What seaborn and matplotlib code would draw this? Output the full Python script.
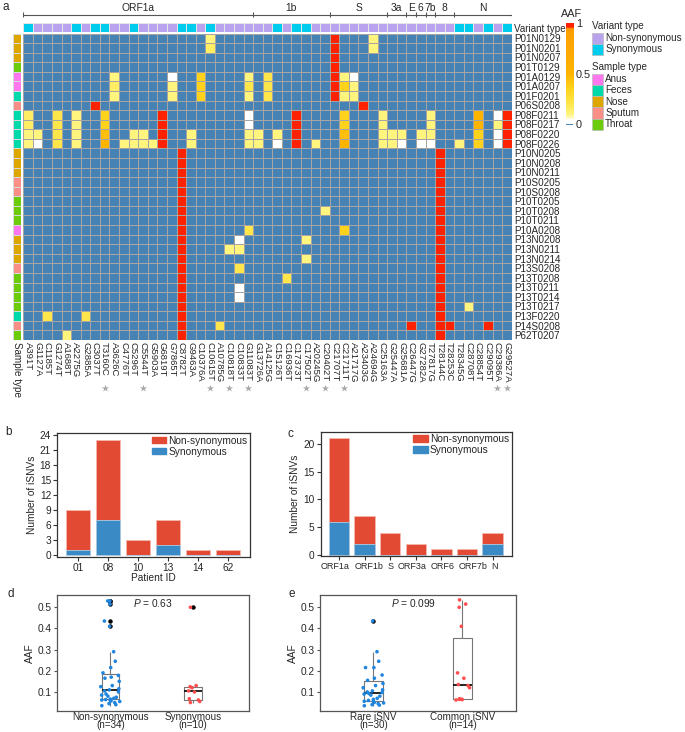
import numpy as np
import pandas as pd
import matplotlib
matplotlib.use("Agg")
import matplotlib.pyplot as plt
import matplotlib.transforms as mtransforms
from matplotlib.colors import LinearSegmentedColormap, ListedColormap
from matplotlib.patches import Rectangle, Patch
import seaborn as sns

# ---------------- panel a data ----------------
mutations = ["A391T", "G1127A", "C1185T", "G1274T", "A1688T", "A2275G", "G2885A", "C3037T",
             "T3160C", "A3626C", "C4776T", "C5296T", "C5544T", "G5903A", "G6819T", "G7865T",
             "C8782T", "G9463A", "C10376A", "C10615T", "A10785G", "C10818T", "C10833T", "G11083T",
             "G13726A", "A14125G", "C15126T", "C16936T", "C17373T", "C17502T", "A20245G", "C20402T",
             "C21707T", "C21711T", "A21717G", "A23403G", "A24694G", "C25163A", "G25447A", "G25681A",
             "C26447G", "G27282A", "T27817G", "T28144C", "T28253C", "T28345G", "C28708T", "C28854T",
             "C29095T", "C29386A", "G29527A"]
# S = synonymous, N = non-synonymous
variant_type = ["S", "N", "N", "N", "N", "S", "N", "S", "S", "N", "N", "S", "N", "N", "N", "N",
                "S", "S", "N", "S", "N", "N", "N", "N", "N", "N", "S", "N", "S", "S", "N", "N",
                "N", "N", "N", "N", "N", "N", "N", "N", "N", "N", "N", "N", "N", "S", "S", "N",
                "S", "N", "S"]
genes = ["ORF1a", "1b", "S", "3a", "E", "6", "7b", "8", "N"]
gene_ncols = [24, 8, 6, 2, 1, 1, 1, 2, 6]
starred = ["T3160C", "C5544T", "C10615T", "C10818T", "G11083T", "C17502T", "C20402T", "C21711T",
           "C29386A", "G29527A"]

samples = ["P01N0129", "P01N0201", "P01N0207", "P01T0129", "P01A0129", "P01A0207", "P01F0201",
           "P06S0208", "P08F0211", "P08F0217", "P08F0220", "P08F0226", "P10N0205", "P10N0208",
           "P10N0211", "P10S0205", "P10S0208", "P10T0205", "P10T0208", "P10T0211", "P10A0208",
           "P13N0208", "P13N0211", "P13N0214", "P13S0208", "P13T0208", "P13T0211", "P13T0214",
           "P13T0217", "P13F0220", "P14S0208", "P62T0207"]
sample_type_names = ["Anus", "Feces", "Nose", "Sputum", "Throat"]
sample_code = {"A": "Anus", "F": "Feces", "N": "Nose", "S": "Sputum", "T": "Throat"}

# AAF estimates
W, L, L2, Y, G, O, R = 0.015, 0.1, 0.15, 0.2, 0.35, 0.5, 1.0
fixed_late = {"C8782T": R, "T28144C": R}
aaf_cells = {
    "P01N0129": {"C10615T": L, "C21707T": R, "A24694G": L},
    "P01N0201": {"C10615T": L2, "C21707T": R, "A24694G": L},
    "P01N0207": {"C21707T": R},
    "P01T0129": {"C21707T": R},
    "P01A0129": {"A3626C": L, "G7865T": W, "C10376A": G, "G11083T": L, "A14125G": Y,
                 "C21707T": R, "C21711T": L, "A21717G": W},
    "P01A0207": {"A3626C": L2, "G7865T": L, "C10376A": G, "G11083T": Y, "A14125G": Y,
                 "C21707T": R, "C21711T": G, "A21717G": L},
    "P01F0201": {"A3626C": L, "G7865T": L, "C10376A": G, "G11083T": L, "A14125G": Y,
                 "C21707T": R, "C21711T": L, "A21717G": L},
    "P06S0208": {"C3037T": R, "A23403G": R},
    "P08F0211": {"A391T": L2, "G1274T": Y, "A2275G": L, "T3160C": G, "G6819T": R, "G11083T": W,
                 "C17373T": R, "C21711T": G, "C25163A": L, "T27817G": L, "C28854T": O,
                 "C29386A": W, "G29527A": R},
    "P08F0217": {"A391T": L2, "G1274T": Y, "A2275G": L, "T3160C": G, "G6819T": R, "G11083T": W,
                 "C17373T": R, "C21711T": G, "C25163A": L, "T27817G": L, "C28854T": O,
                 "C29386A": L, "G29527A": R},
    "P08F0220": {"A391T": L, "G1127A": L, "G1274T": Y, "A2275G": L, "T3160C": 0.45, "C5296T": L,
                 "C5544T": L, "G6819T": R, "G9463A": L, "G11083T": L, "G13726A": L, "C15126T": L,
                 "C17373T": R, "C21711T": 0.45, "C25163A": L, "G25447A": L, "G25681A": L,
                 "G27282A": L, "T27817G": L, "C28854T": G, "C29386A": W, "G29527A": R},
    "P08F0226": {"A391T": L, "G1127A": W, "G1274T": Y, "A2275G": L, "T3160C": O, "C4776T": L,
                 "C5296T": L, "C5544T": L, "G5903A": L, "G6819T": R, "G9463A": L, "G11083T": L,
                 "G13726A": L, "C15126T": W, "C17373T": R, "A20245G": L, "C21711T": O,
                 "C25163A": L, "G25447A": L, "G25681A": W, "G27282A": W, "T27817G": W,
                 "T28345G": L, "C28854T": G, "C29386A": W, "G29527A": R},
    "P10N0205": dict(fixed_late), "P10N0208": dict(fixed_late), "P10N0211": dict(fixed_late),
    "P10S0205": dict(fixed_late), "P10S0208": dict(fixed_late), "P10T0205": dict(fixed_late),
    "P10T0208": {**fixed_late, "C20402T": L},
    "P10T0211": dict(fixed_late),
    "P10A0208": {**fixed_late, "G11083T": Y, "C21711T": G},
    "P13N0208": {**fixed_late, "C10833T": W, "C17502T": L},
    "P13N0211": {**fixed_late, "C10818T": L, "C10833T": L},
    "P13N0214": {**fixed_late, "C17502T": L},
    "P13S0208": {**fixed_late, "C10833T": Y},
    "P13T0208": {**fixed_late, "C16936T": Y},
    "P13T0211": {**fixed_late, "C10833T": W},
    "P13T0214": {**fixed_late, "C10833T": W},
    "P13T0217": {**fixed_late, "C28708T": L},
    "P13F0220": {**fixed_late, "C1185T": Y, "G2885A": Y},
    "P14S0208": {**fixed_late, "A10785G": Y, "C26447G": R, "T28253C": R, "C29095T": R},
    "P62T0207": {**fixed_late, "A1688T": L},
}

# ---------------- panels b-e data ----------------
patients = ["01", "08", "10", "13", "14", "62"]
patient_syn = [1, 7, 0, 2, 0, 0]
patient_nonsyn = [8, 16, 3, 5, 1, 1]

orfs = ["ORF1a", "ORF1b", "S", "ORF3a", "ORF6", "ORF7b", "N"]
orf_syn = [6, 2, 0, 0, 0, 0, 2]
orf_nonsyn = [15, 5, 4, 2, 1, 1, 2]

nonsyn_aaf = [0.035, 0.04, 0.045, 0.05, 0.055, 0.058, 0.06, 0.062, 0.064, 0.066, 0.07, 0.075,
              0.08, 0.085, 0.09, 0.1, 0.105, 0.11, 0.115, 0.125, 0.13, 0.15, 0.165, 0.17, 0.178,
              0.19, 0.215, 0.245, 0.29, 0.41, 0.435, 0.515, 0.53, 0.53]
syn_aaf = [0.05, 0.055, 0.062, 0.068, 0.1, 0.105, 0.12, 0.125, 0.13, 0.5]
rare_aaf = [0.035, 0.038, 0.04, 0.045, 0.048, 0.05, 0.055, 0.056, 0.06, 0.065, 0.07, 0.08, 0.085,
            0.09, 0.093, 0.097, 0.1, 0.105, 0.11, 0.12, 0.13, 0.14, 0.155, 0.165, 0.18, 0.215,
            0.215, 0.245, 0.29, 0.435]
common_aaf = [0.062, 0.064, 0.065, 0.065, 0.068, 0.12, 0.13, 0.135, 0.165, 0.19, 0.41, 0.5,
              0.515, 0.535]
p_de = ["0.63", "0.099"]

# ---------------- style ----------------
nonsyn_color = "#B9A2EE"
syn_color = "#00CCEE"
sample_colors = ["#FF77EE", "#00D9A9", "#DDA700", "#FA8F87", "#6CCB0A"]
bar_red = "#E34A33"
bar_blue = "#3A8BC5"
pt_blue = "#1F85DE"
pt_red = "#FF4C4C"
bg_blue = "#4682B4"
FS = 7.3

sns.set_theme(style="ticks")
plt.rcParams["font.family"] = ["Liberation Sans", "DejaVu Sans"]
plt.rcParams["mathtext.fontset"] = "custom"
plt.rcParams["mathtext.it"] = "Liberation Sans:italic"
plt.rcParams["mathtext.rm"] = "Liberation Sans"

FW, FH = 685, 732
fig = plt.figure(figsize=(FW / 100, FH / 100), dpi=100)


def px_axes(x0, y0, x1, y1, **kw):
    return fig.add_axes([x0 / FW, 1 - y1 / FH, (x1 - x0) / FW, (y1 - y0) / FH], **kw)


aaf_cmap = LinearSegmentedColormap.from_list("aaf", [
    (0.0, bg_blue), (0.005, bg_blue), (0.006, "#FFFFFF"), (0.02, "#FFFFFF"),
    (0.1, "#FFF47C"), (0.2, "#FFE64A"), (0.35, "#FFD21C"), (0.5, "#FFB400"),
    (0.9, "#FFA000"), (0.94, "#FF9400"), (0.95, "#FF2200"), (1.0, "#FF2200")], N=2048)

# ---------------- panel a: heatmap ----------------
mat = pd.DataFrame(0.0, index=samples, columns=mutations)
for s, cells in aaf_cells.items():
    for m, v in cells.items():
        mat.loc[s, m] = v

ax_hm = px_axes(23.3, 33.5, 511.7, 340)
sns.heatmap(mat, cmap=aaf_cmap, vmin=0, vmax=1, cbar=False, linewidths=0.6, linecolor="#A5A5A5",
            xticklabels=True, yticklabels=True, ax=ax_hm)
ax_hm.yaxis.tick_right()
plt.setp(ax_hm.get_yticklabels(), rotation=0, fontsize=7.1)
plt.setp(ax_hm.get_xticklabels(), rotation=270, fontsize=6.8)
ax_hm.tick_params(length=0, pad=1.5)
ax_hm.set_xlabel("")
ax_hm.set_ylabel("")

trans = mtransforms.blended_transform_factory(ax_hm.transData, ax_hm.transAxes)
star_x = [mutations.index(m) + 0.5 for m in starred]
ax_hm.scatter(star_x, [-0.157] * len(star_x), marker="*", s=30, color="#AAAAAA", linewidths=0,
              transform=trans, clip_on=False)

# variant type bar
vt = pd.DataFrame([[0 if v == "N" else 1 for v in variant_type]], index=["Variant type"],
                  columns=mutations)
ax_vt = px_axes(23.3, 23.3, 511.7, 32.3)
sns.heatmap(vt, cmap=ListedColormap([nonsyn_color, syn_color]), vmin=-0.5, vmax=1.5, cbar=False,
            linewidths=0.6, linecolor="#E6E6E6", xticklabels=False, yticklabels=True, ax=ax_vt)
ax_vt.yaxis.tick_right()
plt.setp(ax_vt.get_yticklabels(), rotation=0, fontsize=7.1)
ax_vt.tick_params(length=0, pad=1.5)
ax_vt.set_xlabel("")
ax_vt.set_ylabel("")

# sample type side bar
st = pd.DataFrame({"Sample type": [sample_type_names.index(sample_code[s[3]]) for s in samples]},
                  index=samples)
ax_st = px_axes(13.3, 33.5, 21.3, 340)
sns.heatmap(st, cmap=ListedColormap(sample_colors), vmin=-0.5, vmax=4.5, cbar=False,
            linewidths=0.5, linecolor="#D8D8D8", xticklabels=True, yticklabels=False, ax=ax_st)
plt.setp(ax_st.get_xticklabels(), rotation=270, fontsize=7.1)
ax_st.tick_params(length=0, pad=1.5)
ax_st.set_ylabel("")

# gene bracket
ax_gene = px_axes(23.3, 2, 511.7, 20)
ax_gene.set_xlim(0, len(mutations))
ax_gene.set_ylim(0, 1)
ax_gene.axis("off")
bounds = np.cumsum([0] + gene_ncols)
ax_gene.hlines(0.28, bounds[0], bounds[-1], color="#555555", lw=0.8)
ax_gene.vlines(bounds, 0.15, 0.42, color="#555555", lw=0.8)
for g, a, b in zip(genes, bounds[:-1], bounds[1:]):
    ax_gene.text((a + b) / 2, 0.68, g, ha="center", va="center", fontsize=7.4)

# colour bar
ax_cb = px_axes(566, 23, 573.3, 126)
grad = np.linspace(0.05, 1, 300)[:, None]
ax_cb.imshow(grad, aspect="auto", cmap=aaf_cmap, vmin=0, vmax=1, origin="lower",
             extent=[0, 1, 0.05, 1])
ax_cb.add_patch(Rectangle((0, -0.008), 1, 0.016, color=bg_blue, lw=0))
ax_cb.set_xlim(0, 1)
ax_cb.set_ylim(-0.015, 1)
ax_cb.set_xticks([])
ax_cb.yaxis.tick_right()
ax_cb.set_yticks([0, 0.5, 1])
ax_cb.set_yticklabels(["0", "0.5", "1"])
ax_cb.tick_params(length=0, pad=2, labelsize=7.8)
for sp in ax_cb.spines.values():
    sp.set_visible(False)

# ---------------- overlay for legends / labels ----------------
ov = fig.add_axes([0, 0, 1, 1], facecolor="none")
ov.set_xlim(0, FW)
ov.set_ylim(FH, 0)
ov.axis("off")
ov.text(571.7, 14, "AAF", ha="center", va="center", fontsize=7.8)


def draw_legend(title, labels, colors, x, y_title, y0, h=11.3):
    ov.text(x, y_title, title, fontsize=7.1, va="center", ha="left")
    for i, (lab, c) in enumerate(zip(labels, colors)):
        ov.add_patch(Rectangle((x, y0 + i * h), 11.7, h, facecolor=c, edgecolor="#BBBBBB", lw=0.5))
        ov.text(x + 13.5, y0 + (i + 0.5) * h, lab, fontsize=7.1, va="center", ha="left")


draw_legend("Variant type", ["Non-synonymous", "Synonymous"], [nonsyn_color, syn_color],
            591.7, 26, 32.5)
draw_legend("Sample type", sample_type_names, sample_colors, 591.7, 67, 73.5)

for lab, x, y in [("a", 3, 7), ("b", 5, 432), ("c", 288, 434), ("d", 8, 594), ("e", 289, 594)]:
    ov.text(x, y, lab, fontsize=8.5, ha="left", va="center")


# ---------------- panels b, c: stacked bars ----------------
def stacked(ax, cats, syn, nonsyn, xlim, ylim, yticks):
    total = [a + b for a, b in zip(syn, nonsyn)]
    sns.barplot(x=cats, y=total, color=bar_red, saturation=1, width=0.8, edgecolor="#F6B8AE",
                linewidth=0.6, ax=ax)
    sns.barplot(x=cats, y=syn, color=bar_blue, saturation=1, width=0.8, edgecolor="#A9CDE8",
                linewidth=0.6, ax=ax)
    ax.set_xlim(*xlim)
    ax.set_ylim(*ylim)
    ax.set_yticks(yticks)
    ax.set_ylabel("Number of iSNVs", fontsize=FS, labelpad=2)
    ax.tick_params(labelsize=FS, length=3, width=0.8, pad=1.5, color="#333333")
    for sp in ax.spines.values():
        sp.set_visible(True)
        sp.set_color("#333333")
        sp.set_linewidth(0.9)
    ax.legend(handles=[Patch(color=bar_red, label="Non-synonymous"),
                       Patch(color=bar_blue, label="Synonymous")],
              loc="upper right", bbox_to_anchor=(1.0, 1.0), frameon=False, fontsize=FS,
              borderaxespad=0.15, borderpad=0.1, handlelength=1.45, handleheight=0.65,
              handletextpad=0.2, labelspacing=0.1)


ax_b = px_axes(57.3, 433, 250, 556.7)
stacked(ax_b, patients, patient_syn, patient_nonsyn, (-0.7, 5.72), (-0.3, 24.4), range(0, 25, 3))
ax_b.set_xlabel("Patient ID", fontsize=FS, labelpad=0)

ax_c = px_axes(320.7, 431.7, 511.7, 556)
stacked(ax_c, orfs, orf_syn, orf_nonsyn, (-0.71, 6.74), (-0.2, 22.2), range(0, 21, 5))
ax_c.tick_params(axis="x", labelsize=6.5)
# nudge the crowded gene names apart, as in the original layout
for lab, dx in zip(ax_c.get_xticklabels(), [-3.6, 4.8, 0, -3.9, 1.5, 6, 2.2]):
    lab.set_transform(lab.get_transform() + mtransforms.ScaledTranslation(dx / 100, 0,
                                                                          fig.dpi_scale_trans))


# ---------------- panels d, e: box + strip ----------------
def box_strip(ax, names, groups, colors, p, xlim, ptx):
    labels = [f"{n}\n(n={len(g)})" for n, g in zip(names, groups)]
    df = pd.DataFrame({"group": np.repeat(labels, [len(g) for g in groups]),
                       "aaf": np.concatenate(groups)})
    sns.boxplot(data=df, x="group", y="aaf", width=0.21, fill=False, color="#777777",
                linewidth=0.8, showcaps=False,
                medianprops=dict(color="black", linewidth=1.2),
                flierprops=dict(marker="o", markersize=2.2, markerfacecolor="black",
                                markeredgecolor="black"), ax=ax)
    np.random.seed(7)
    sns.stripplot(data=df, x="group", y="aaf", hue="group", palette=colors, size=2.6,
                  jitter=0.12, legend=False, ax=ax, zorder=3)
    ax.set_xlim(*xlim)
    ax.set_ylim(0.01, 0.558)
    ax.set_yticks([0.1, 0.2, 0.3, 0.4, 0.5])
    ax.set_xlabel("")
    ax.set_ylabel("AAF", fontsize=FS, labelpad=2)
    ax.tick_params(labelsize=FS, length=2.5, width=0.8, pad=1.5, color="#555555")
    ax.tick_params(axis="x", length=0, pad=1.0, labelsize=7.1)
    plt.setp(ax.get_xticklabels(), linespacing=0.72)
    for sp in ax.spines.values():
        sp.set_visible(True)
        sp.set_color("#555555")
        sp.set_linewidth(0.9)
    ax.text(ptx, 0.93, f"$P$ = {p}", transform=ax.transAxes, ha="center", va="center",
            fontsize=FS)


ax_d = px_axes(57.3, 595, 249.3, 711)
box_strip(ax_d, ["Non-synonymous", "Synonymous"], [nonsyn_aaf, syn_aaf], [pt_blue, pt_red],
          p_de[0], (-0.64, 1.68), 0.5)

ax_e = px_axes(320, 595, 515.7, 711)
box_strip(ax_e, ["Rare iSNV", "Common iSNV"], [rare_aaf, common_aaf], [pt_blue, pt_red],
          p_de[1], (-0.6, 1.6), 0.48)

fig.savefig("out.png", dpi=100)
